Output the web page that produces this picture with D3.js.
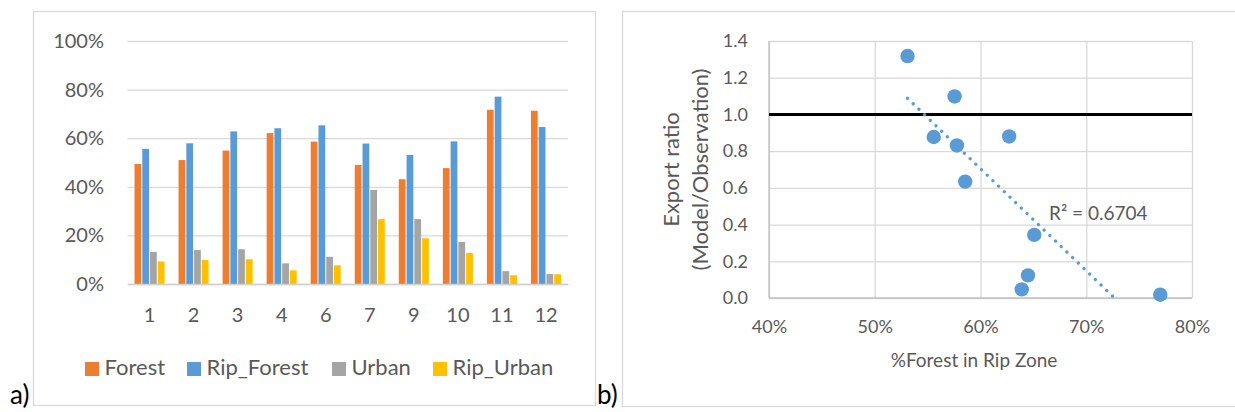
<!DOCTYPE html>
<html>
<head>
<meta charset="utf-8">
<script src="https://cdn.jsdelivr.net/npm/d3@7"></script>
<style>
  html, body { margin: 0; padding: 0; background: #ffffff; }
  svg { display: block; font-family: Lato, "Open Sans", "DejaVu Sans", sans-serif; }
</style>
</head>
<body>
<svg id="chart" width="1235" height="412"></svg>
<script>
// ---------- data ----------
const watersheds = ["1", "2", "3", "4", "6", "7", "9", "10", "11", "12"];
const seriesNames = ["Forest", "Rip_Forest", "Urban", "Rip_Urban"];
const forest    = [0.494, 0.510, 0.549, 0.621, 0.586, 0.490, 0.431, 0.477, 0.717, 0.713];
const ripForest = [0.556, 0.579, 0.628, 0.641, 0.653, 0.578, 0.531, 0.587, 0.771, 0.646];
const urban     = [0.132, 0.140, 0.143, 0.085, 0.112, 0.387, 0.267, 0.173, 0.053, 0.041];
const ripUrban  = [0.093, 0.099, 0.102, 0.056, 0.077, 0.267, 0.188, 0.128, 0.036, 0.040];
const barTicks = [0, 0.2, 0.4, 0.6, 0.8, 1.0];

const ripForestPct = [0.531, 0.5755, 0.5558, 0.5777, 0.6271, 0.5855, 0.6508, 0.6449, 0.6390, 0.770];
const exportRatio  = [1.318, 1.098, 0.877, 0.831, 0.880, 0.634, 0.344, 0.123, 0.047, 0.018];
const scatterXTicks = [0.4, 0.5, 0.6, 0.7, 0.8];
const scatterYTicks = [0, 0.2, 0.4, 0.6, 0.8, 1.0, 1.2, 1.4];
const referenceLine = [{x: 0.4, y: 1.0}, {x: 0.8, y: 1.0}];
const r2Label = "R² = 0.6704";

// ---------- styles ----------
const colors = {Forest: "#ED7D31", Rip_Forest: "#5B9BD5", Urban: "#A5A5A5", Rip_Urban: "#FFC000"};
const textColor = "#595959";
const gridColor = "#D9D9D9";

const svg = d3.select("#chart");
svg.append("rect").attr("width", 1235).attr("height", 412).attr("fill", "#fff");

// panel borders
svg.append("rect").attr("x", 33.5).attr("y", 11.5).attr("width", 562).attr("height", 394)
  .attr("fill", "none").attr("stroke", gridColor).attr("stroke-width", 1.3);
svg.append("rect").attr("x", 622.5).attr("y", 11.5).attr("width", 700).attr("height", 395)
  .attr("fill", "none").attr("stroke", gridColor).attr("stroke-width", 1.3);

// panel labels
svg.append("text").attr("x", 10).attr("y", 404).attr("font-size", 26).attr("fill", "#000").text("a)");
svg.append("text").attr("x", 597).attr("y", 404).attr("font-size", 26).attr("fill", "#000").text("b)");

// ================= Panel a: grouped bars =================
const seriesData = {Forest: forest, Rip_Forest: ripForest, Urban: urban, Rip_Urban: ripUrban};
const ax0 = d3.scaleBand().domain(watersheds).range([127.5, 568]).paddingInner(0.295).paddingOuter(0.1475);
const ax1 = d3.scaleBand().domain(seriesNames).range([0, ax0.bandwidth()]);
const ay = d3.scaleLinear().domain([0, 1]).range([284, 41]);

const gA = svg.append("g");
const yAxisA = gA.append("g").attr("transform", "translate(127.5,0)")
  .call(d3.axisLeft(ay).tickValues(barTicks).tickFormat(d3.format(".0%"))
        .tickSize(-(568 - 127.5)).tickPadding(23.5));
yAxisA.select(".domain").remove();
yAxisA.selectAll(".tick line").attr("stroke", gridColor).attr("stroke-width", 1.3);
yAxisA.selectAll(".tick text").attr("fill", textColor).attr("font-size", 20)
  .attr("font-family", "Lato, 'Open Sans', sans-serif");

const groups = gA.selectAll("g.grp").data(watersheds).join("g").attr("class", "grp")
  .attr("transform", d => `translate(${ax0(d)},0)`);
groups.selectAll("rect").data((d, i) => seriesNames.map(s => ({s, v: seriesData[s][i]})))
  .join("rect")
  .attr("x", d => ax1(d.s) + 0.5)
  .attr("width", ax1.bandwidth() - 1)
  .attr("y", d => ay(d.v))
  .attr("height", d => ay(0) - ay(d.v))
  .attr("fill", d => colors[d.s]);

const xAxisA = gA.append("g").attr("transform", `translate(0,${ay(0)})`)
  .call(d3.axisBottom(ax0).tickSize(0).tickPadding(24));
xAxisA.select(".domain").attr("stroke", "#D0D0D0").attr("stroke-width", 1.5);
xAxisA.selectAll(".tick text").attr("fill", textColor).attr("font-size", 20)
  .attr("font-family", "Lato, 'Open Sans', sans-serif");

// legend
const legendX = [85, 187, 332, 433];
const legend = gA.selectAll("g.leg").data(seriesNames).join("g").attr("class", "leg")
  .attr("transform", (d, i) => `translate(${legendX[i]},362)`);
legend.append("rect").attr("width", 14).attr("height", 14).attr("fill", d => colors[d]);
legend.append("text").attr("x", 19.5).attr("y", 12.7).attr("font-size", 22).attr("fill", textColor).text(d => d);

// ================= Panel b: scatter =================
const bx = d3.scaleLinear().domain([0.4, 0.8]).range([769, 1192]);
const by = d3.scaleLinear().domain([0, 1.4]).range([298, 41]);
const gB = svg.append("g");

// horizontal gridlines
const yAxisB = gB.append("g").attr("transform", `translate(${bx(0.4)},0)`)
  .call(d3.axisLeft(by).tickValues(scatterYTicks).tickFormat(d3.format(".1f"))
        .tickSize(-(bx(0.8) - bx(0.4))).tickPadding(21));
yAxisB.select(".domain").remove();
yAxisB.selectAll(".tick line").attr("stroke", gridColor).attr("stroke-width", 1.3);
yAxisB.selectAll(".tick text").attr("fill", textColor).attr("font-size", 18)
  .attr("font-family", "Lato, 'Open Sans', sans-serif");

// vertical gridlines + x labels
const xAxisB = gB.append("g").attr("transform", `translate(0,${by(0)})`)
  .call(d3.axisBottom(bx).tickValues(scatterXTicks).tickFormat(d3.format(".0%"))
        .tickSize(-(by(0) - by(1.4))).tickPadding(22));
xAxisB.select(".domain").remove();
xAxisB.selectAll(".tick line").attr("stroke", gridColor).attr("stroke-width", 1.3);
xAxisB.selectAll(".tick text").attr("fill", textColor).attr("font-size", 18)
  .attr("font-family", "Lato, 'Open Sans', sans-serif");

// axis lines
gB.append("line").attr("x1", bx(0.4)).attr("x2", bx(0.8)).attr("y1", by(0)).attr("y2", by(0))
  .attr("stroke", "#BFBFBF").attr("stroke-width", 1.3);
gB.append("line").attr("x1", bx(0.4)).attr("x2", bx(0.4)).attr("y1", by(0)).attr("y2", by(1.4))
  .attr("stroke", "#BFBFBF").attr("stroke-width", 1.3);

// reference line at 1.0
gB.append("path").datum(referenceLine)
  .attr("d", d3.line().x(d => bx(d.x)).y(d => by(d.y)))
  .attr("stroke", "#000").attr("stroke-width", 3).attr("fill", "none");

// points
const pts = ripForestPct.map((x, i) => ({x, y: exportRatio[i]}));
gB.selectAll("circle").data(pts).join("circle")
  .attr("cx", d => bx(d.x)).attr("cy", d => by(d.y)).attr("r", 7.2)
  .attr("fill", "#5B9BD5");

// linear trendline (least squares), clipped at y = 0
const mx = d3.mean(pts, d => d.x), my = d3.mean(pts, d => d.y);
const sxy = d3.sum(pts, d => (d.x - mx) * (d.y - my));
const sxx = d3.sum(pts, d => (d.x - mx) ** 2);
const slope = sxy / sxx, intercept = my - slope * mx;
const tx0 = d3.min(pts, d => d.x);
const tx1 = Math.min(d3.max(pts, d => d.x), -intercept / slope);
const trend = [{x: tx0, y: intercept + slope * tx0}, {x: tx1, y: intercept + slope * tx1}];
gB.append("path").datum(trend)
  .attr("d", d3.line().x(d => bx(d.x)).y(d => by(d.y)))
  .attr("stroke", "#5B9BD5").attr("stroke-width", 3.3).attr("fill", "none")
  .attr("stroke-linecap", "round").attr("stroke-dasharray", "0.01 7.9");

// R² label
gB.append("text").attr("x", 1049).attr("y", 219.5).attr("font-size", 19).attr("fill", textColor).text(r2Label);

// axis titles
gB.append("text").attr("x", 974).attr("y", 366.5).attr("text-anchor", "middle")
  .attr("font-size", 19).attr("fill", textColor).text("%Forest in Rip Zone");
const yTitle = gB.append("text").attr("transform", "translate(0,169.5) rotate(-90)")
  .attr("text-anchor", "middle").attr("font-size", 22).attr("fill", textColor);
yTitle.append("tspan").attr("x", 0).attr("y", 679).text("Export ratio");
yTitle.append("tspan").attr("x", 0).attr("y", 708).text("(Model/Observation)");
</script>
</body>
</html>
